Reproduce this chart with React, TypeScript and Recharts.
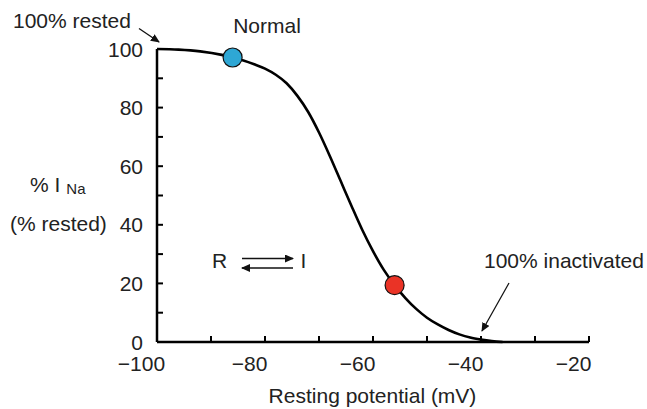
import { ComposedChart, Line, Scatter, XAxis, YAxis, Customized } from "recharts";

// resting membrane potential (mV) and available Na current (% rested)
const potential = [-100, -96, -92, -88, -86, -84, -82, -80, -78, -76, -74, -72, -70, -68, -66, -64, -62, -60, -58, -56, -54, -52, -50, -48, -46, -44, -42, -40, -38, -36];
const rested = [100, 99.8, 99.2, 98, 97.1, 96.1, 94.8, 93.3, 91.2, 88.3, 84, 78.5, 71.5, 63.5, 55, 46.5, 38.3, 31, 24.6, 19.4, 15, 11.3, 8.3, 6, 4.1, 2.6, 1.5, 0.8, 0.3, 0];

const normalPoint = [{ v: -86, pct: 97.1 }];
const shiftedPoint = [{ v: -56, pct: 19.4 }];

const xTicks = [-100, -90, -80, -70, -60, -50, -40, -30, -20];
const yTicks = [0, 10, 20, 30, 40, 50, 60, 70, 80, 90, 100];

const curve = potential.map((v, i) => ({ v, pct: rested[i] }));

const FONT = "'Liberation Sans', Arial, sans-serif";
const INK = "#222";

const YTick = ({ x, y, payload }: any) => (
  <g>
    <line x1={x + 14} x2={x + 20} y1={y} y2={y} stroke="#000" strokeWidth={2} />
    {payload.value % 20 === 0 && (
      <text x={x} y={y} textAnchor="end" dominantBaseline="central" fontSize={21} fill={INK} fontFamily={FONT}>
        {payload.value}
      </text>
    )}
  </g>
);

const XTick = ({ x, y, payload }: any) => (
  <g>
    <line x1={x} x2={x} y1={y} y2={y - 6} stroke="#000" strokeWidth={2} />
    {payload.value % 20 === 0 && (
      <text x={x - 15.5} y={y + 29} textAnchor="middle" fontSize={21} fill={INK} fontFamily={FONT}>
        {"\u2212" + Math.abs(payload.value)}
      </text>
    )}
  </g>
);

const Dot = (fill: string) => (props: any) => (
  <circle cx={props.cx} cy={props.cy} r={9.5} fill={fill} stroke="#111" strokeWidth={1.2} />
);

const Annotations = () => (
  <g fontFamily={FONT} fill={INK} fontSize={21}>
    <defs>
      <marker id="head" markerUnits="userSpaceOnUse" markerWidth={9} markerHeight={8} refX={8} refY={4} orient="auto">
        <path d="M0,0 L9,4 L0,8 z" fill="#111" />
      </marker>
    </defs>
    <text x={13} y={28}>100% rested</text>
    <line x1={139} y1={28.5} x2={159} y2={42} stroke="#111" strokeWidth={1.3} markerEnd="url(#head)" />
    <text x={267} y={33} textAnchor="middle">Normal</text>

    <text x={30} y={192}>
      % I<tspan fontSize={15} dx={6} dy={1.5}>Na</tspan>
    </text>
    <text x={10} y={231}>(% rested)</text>

    <text x={212} y={268}>R</text>
    <line x1={242} y1={258.5} x2={293} y2={258.5} stroke="#111" strokeWidth={1.3} markerEnd="url(#head)" />
    <line x1={293} y1={268} x2={242} y2={268} stroke="#111" strokeWidth={1.3} markerEnd="url(#head)" />
    <text x={300.5} y={268}>I</text>

    <text x={484} y={268}>100% inactivated</text>
    <line x1={509} y1={283} x2={482} y2={331} stroke="#111" strokeWidth={1.3} markerEnd="url(#head)" />

    <text x={372.5} y={403} textAnchor="middle">Resting potential (mV)</text>
  </g>
);

export default function App() {
  return (
    <div style={{ position: "absolute", left: 0, top: 0, background: "#fff" }}>
      <ComposedChart
        width={647}
        height={409}
        data={curve}
        margin={{ top: 49, right: 58, left: 97, bottom: 37 }}
      >
        <XAxis
          dataKey="v"
          type="number"
          domain={[-100, -20]}
          ticks={xTicks}
          interval={0}
          tickSize={0}
          tickMargin={0}
          tick={<XTick />}
          axisLine={{ stroke: "#000", strokeWidth: 2.5 }}
          tickLine={false}
          height={30}
        />
        <YAxis
          dataKey="pct"
          type="number"
          domain={[0, 100]}
          ticks={yTicks}
          interval={0}
          tickSize={0}
          tickMargin={14}
          tick={<YTick />}
          axisLine={{ stroke: "#000", strokeWidth: 2.5 }}
          tickLine={false}
          width={60}
        />
        <Line
          type="monotone"
          dataKey="pct"
          stroke="#000"
          strokeWidth={2.6}
          dot={false}
          isAnimationActive={false}
        />
        <Scatter data={normalPoint} dataKey="pct" shape={Dot("#2ea7d5")} isAnimationActive={false} />
        <Scatter data={shiftedPoint} dataKey="pct" shape={Dot("#ea3326")} isAnimationActive={false} />
        <Customized component={Annotations} />
      </ComposedChart>
    </div>
  );
}
